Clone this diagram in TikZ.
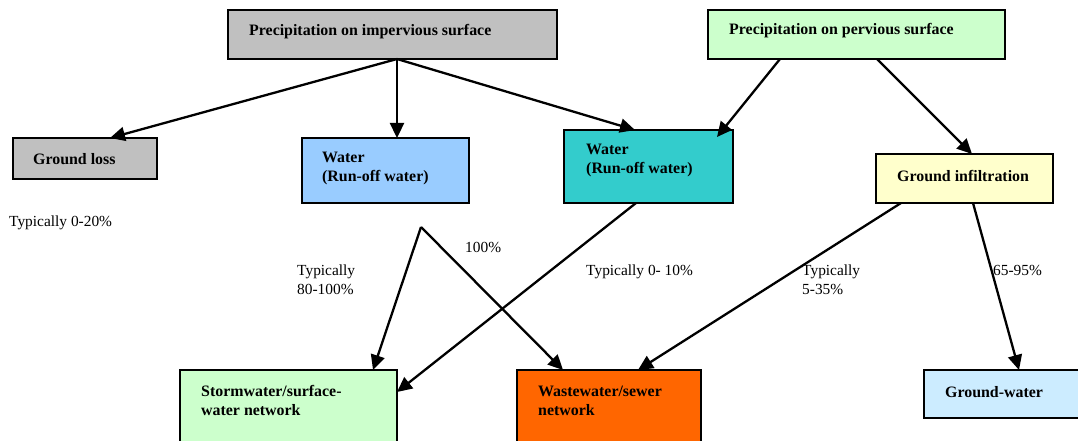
\documentclass[tikz,border=0pt]{standalone}
\usepackage{fontspec}
\setmainfont{Liberation Serif}
\usetikzlibrary{arrows.meta,calc}
\definecolor{impgray}{HTML}{C0C0C0}
\definecolor{wblue}{HTML}{99CCFF}
\definecolor{wteal}{HTML}{33CCCC}
\definecolor{pgreen}{HTML}{CCFFCC}
\definecolor{iyellow}{HTML}{FFFFCC}
\definecolor{sorange}{HTML}{FF6600}
\definecolor{gwblue}{HTML}{CCECFF}
\begin{document}
\begin{tikzpicture}[x=1pt,y=-1pt,
  box/.style={draw=black,line width=2pt,anchor=north west,inner sep=0pt,outer sep=0pt},
  lbl/.style={anchor=west,inner sep=0pt,font=\fontsize{15.4}{19}\selectfont,align=left},
  btxt/.style={anchor=west,inner sep=0pt,font=\fontsize{15.9}{19}\selectfont\bfseries,align=left},
  arr/.style={line width=2.3pt,-{Triangle[length=15pt,width=14pt]}}]
\useasboundingbox (0,0) rectangle (1078,441);
\clip (0,0) rectangle (1078,441);

% boxes
\node[box,fill=impgray,minimum width=329pt,minimum height=49pt] (imp) at (228,10) {};
\node[box,fill=impgray,minimum width=144pt,minimum height=41pt] (gl) at (13,138) {};
\node[box,fill=wblue,minimum width=167pt,minimum height=65pt] (wb) at (302,138) {};
\node[box,fill=wteal,minimum width=169pt,minimum height=73pt] (wt) at (564,130) {};
\node[box,fill=pgreen,minimum width=297pt,minimum height=49pt] (perv) at (708,10) {};
\node[box,fill=iyellow,minimum width=177pt,minimum height=49pt] (inf) at (876,154) {};
\node[box,fill=pgreen,minimum width=217pt,minimum height=100pt] (storm) at (180,370) {};
\node[box,fill=sorange,minimum width=184pt,minimum height=100pt] (waste) at (517,370) {};
\node[box,fill=gwblue,minimum width=170pt,minimum height=48pt] (gw) at (924,370) {};

% box texts
\node[btxt] (timp) at (249,32) {Precipitation on impervious surface};
\node[btxt] (tgl) at (33,159) {Ground loss};
\node[btxt] (twb) at (322,168.5) {Water\\(Run-off water)};
\node[btxt] (twt) at (586,160.5) {Water\\(Run-off water)};
\node[btxt] (tperv) at (729,31) {Precipitation on pervious surface};
\node[btxt] (tinf) at (897,176) {Ground infiltration};
\node[btxt] (tstorm) at (201,400.5) {Stormwater/surface-\\water network};
\node[btxt] (twaste) at (538,400.5) {Wastewater/sewer\\network};
\node[btxt] (tgw) at (945,392) {Ground-water};

% labels
\node[lbl] (l1) at (9,223) {Typically 0-20\%};
\node[lbl] (l2) at (297,279.5) {Typically\\80-100\%};
\node[lbl] (l3) at (465,247) {100\%};
\node[lbl] (l4) at (586,272) {Typically 0- 10\%};
\node[lbl] (l5) at (802,279.5) {Typically\\5-35\%};
\node[lbl] (l6) at (993,270) {65-95\%};

% split point
\coordinate (apex) at (421,227);

% connectors
\draw[arr] ([xshift=4.5pt]imp.south) -- ([xshift=25pt]gl.north);
\draw[arr] ([xshift=4.5pt]imp.south) -- ([xshift=11.5pt]wb.north);
\draw[arr] ([xshift=4.5pt]imp.south) -- ([xshift=-13.5pt]wt.north);
\draw[arr] ([xshift=-76.5pt]perv.south) -- ([xshift=-16pt,yshift=-7pt]wt.north east);
\draw[arr] ([xshift=20.5pt]perv.south) -- ([xshift=7.5pt]inf.north);
\draw[arr] (apex) -- ([xshift=84.5pt]storm.north);
\draw[arr] (apex) -- ([xshift=-46pt]waste.north);
\draw[arr] ([xshift=-12.5pt]wt.south) -- ([yshift=-22pt]storm.north east);
\draw[arr] ([xshift=-63.5pt]inf.south) -- ([xshift=29pt]waste.north);
\draw[arr] ([xshift=8.5pt]inf.south) -- ([xshift=95pt]gw.north west);
\end{tikzpicture}
\end{document}
